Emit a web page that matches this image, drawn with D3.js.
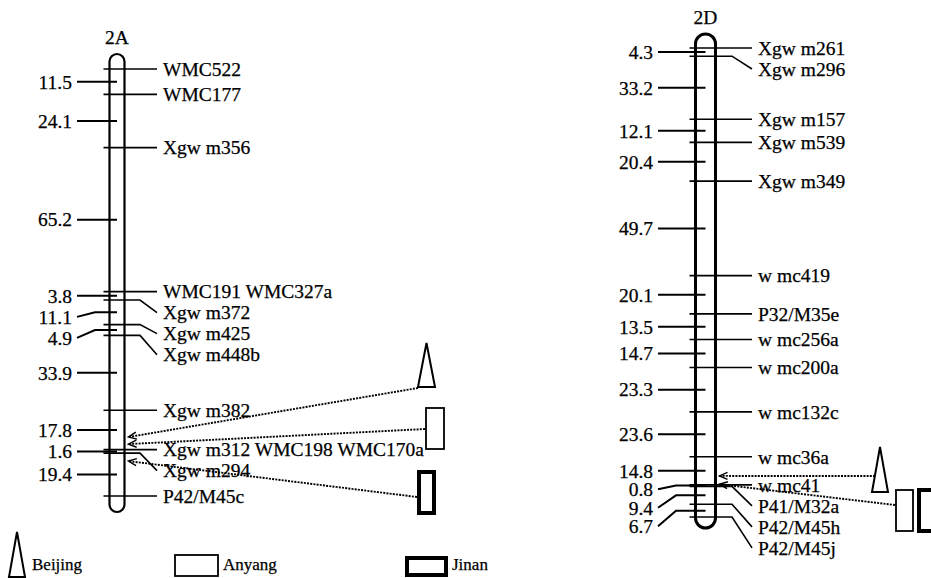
<!DOCTYPE html>
<html>
<head>
<meta charset="utf-8">
<script src="https://cdn.jsdelivr.net/npm/d3@7"></script>
<style>
  body { margin: 0; background: #fff; }
  text { font-family: "Liberation Serif", "Times New Roman", serif; fill: #000; stroke: #000; stroke-width: 0.25px; }
</style>
</head>
<body>
<div id="chart"></div>
<script>
const markers2A = ["WMC522", "WMC177", "Xgw m356", "WMC191 WMC327a", "Xgw m372", "Xgw m425",
  "Xgw m448b", "Xgw m382", "Xgw m312 WMC198 WMC170a", "Xgw m294", "P42/M45c"];
const intervals2A = [11.5, 24.1, 65.2, 3.8, 11.1, 4.9, 33.9, 17.8, 1.6, 19.4];

const markers2D = ["Xgw m261", "Xgw m296", "Xgw m157", "Xgw m539", "Xgw m349", "w mc419",
  "P32/M35e", "w mc256a", "w mc200a", "w mc132c", "w mc36a", "w mc41", "P41/M32a",
  "P42/M45h", "P42/M45j"];
const intervals2D = [4.3, 33.2, 12.1, 20.4, 49.7, 20.1, 13.5, 14.7, 23.3, 23.6, 14.8, 0.8, 9.4, 6.7];

// QTL positions (cM) per environment, null = no arrow
const envs = ["Beijing", "Anyang", "Jinan"];
const qtl2A = [166.6, 169.8, 177.5];
const qtl2D = [225.0, 229.4, null];

const width = 931, height = 578;
const fs = "19.5px";
const svg = d3.select("#chart").append("svg").attr("width", width).attr("height", height);

const defs = svg.append("defs");
defs.append("marker")
  .attr("id", "head")
  .attr("viewBox", "-10 -5 12 10")
  .attr("markerWidth", 12).attr("markerHeight", 10)
  .attr("refX", 0).attr("refY", 0)
  .attr("markerUnits", "userSpaceOnUse")
  .attr("orient", "auto")
  .append("path")
  .attr("d", "M-8,-3.5L0,0L-8,3.5")
  .attr("fill", "none").attr("stroke", "#000").attr("stroke-width", 1.5);

// environment symbol
function drawBox(g, env, b) {
  if (env === "Beijing") {
    g.append("path")
      .attr("d", `M${b.x},${b.y + b.h}L${b.x + b.w / 2},${b.y}L${b.x + b.w},${b.y + b.h}Z`)
      .attr("fill", "#fff").attr("stroke", "#000").attr("stroke-width", 2)
      .attr("stroke-linejoin", "miter");
  } else {
    g.append("rect")
      .attr("x", b.x).attr("y", b.y).attr("width", b.w).attr("height", b.h)
      .attr("fill", "#fff").attr("stroke", "#000")
      .attr("stroke-width", env === "Jinan" ? 4 : 1.8);
  }
}

function drawChrom(cfg, names, intervals, qtl) {
  const g = svg.append("g");
  const pos = [0];
  intervals.forEach(d => pos.push(pos[pos.length - 1] + d));
  const y = d3.scaleLinear().domain([0, d3.sum(intervals)]).range([cfg.y0, cfg.y1]);

  // chromosome body
  g.append("rect")
    .attr("x", cfg.cx - cfg.w / 2).attr("y", cfg.top)
    .attr("width", cfg.w).attr("height", cfg.bottom - cfg.top)
    .attr("rx", cfg.w / 2).attr("ry", cfg.w / 2)
    .attr("fill", "#fff").attr("stroke", "#000").attr("stroke-width", cfg.sw);

  g.append("text").text(cfg.title)
    .attr("x", cfg.cx).attr("y", cfg.top - 10)
    .attr("text-anchor", "middle").style("font-size", fs);

  // marker labels on the right, pushed down when crowded
  let prev = -1e9;
  const mk = names.map((n, i) => {
    const ty = y(pos[i]);
    const ly = Math.max(ty, prev + cfg.gapR);
    prev = ly;
    return {n, ty, ly};
  });
  g.selectAll(".mline").data(mk).join("path")
    .attr("d", d => {
      const x0 = cfg.cx - cfg.w / 2 - 6;
      if (d.ly - d.ty < 1) return `M${x0},${d.ty}H${cfg.lineEnd}`;
      return `M${x0},${d.ty}H${cfg.bendX}L${cfg.lineEnd},${d.ly}`;
    })
    .attr("fill", "none").attr("stroke", "#000").attr("stroke-width", 1.6);
  g.selectAll(".mlab").data(mk).join("text")
    .text(d => d.n)
    .attr("x", cfg.lineEnd + 6).attr("y", d => d.ly)
    .attr("dy", "0.35em").style("font-size", fs);

  // interval distances on the left
  prev = -1e9;
  const iv = intervals.map((v, i) => {
    const ty = y((pos[i] + pos[i + 1]) / 2);
    const ly = Math.max(ty, prev + cfg.gapL);
    prev = ly;
    return {v, ty, ly};
  });
  g.selectAll(".iline").data(iv).join("path")
    .attr("d", d => {
      if (d.ly - d.ty < 1) return `M${cfg.tickStart},${d.ty}H${cfg.cx}`;
      return `M${cfg.tickStart},${d.ly}L${cfg.tickStart + 18},${d.ty}H${cfg.cx}`;
    })
    .attr("fill", "none").attr("stroke", "#000").attr("stroke-width", 2);
  g.selectAll(".ilab").data(iv).join("text")
    .text(d => d.v.toFixed(1))
    .attr("x", cfg.tickStart - 5).attr("y", d => d.ly)
    .attr("dy", "0.35em").attr("text-anchor", "end").style("font-size", fs);

  // QTL arrows and environment symbols
  envs.forEach((env, i) => {
    const b = cfg.boxes[i];
    if (qtl[i] !== null) {
      g.append("line")
        .attr("x1", b.ax).attr("y1", b.ay)
        .attr("x2", cfg.cx + cfg.w / 2 + 4).attr("y2", y(qtl[i]))
        .attr("stroke", "#000").attr("stroke-width", 1.9)
        .attr("stroke-dasharray", "2,1.2")
        .attr("marker-end", "url(#head)");
    }
    drawBox(g, env, b);
  });
}

drawChrom({
  title: "2A", cx: 117, w: 15, sw: 2.2, top: 54, bottom: 512,
  y0: 69, y1: 496, lineEnd: 157, bendX: 140, tickStart: 77, gapR: 21, gapL: 21,
  boxes: [
    {x: 418, y: 343, w: 17, h: 44, ax: 418, ay: 388},
    {x: 426, y: 408, w: 18, h: 41, ax: 425, ay: 429},
    {x: 419, y: 472, w: 15, h: 41, ax: 417, ay: 497}
  ]
}, markers2A, intervals2A, qtl2A);

drawChrom({
  title: "2D", cx: 705.5, w: 20, sw: 3, top: 34, bottom: 528,
  y0: 48, y1: 517, lineEnd: 752, bendX: 732, tickStart: 658, gapR: 21, gapL: 18.5,
  boxes: [
    {x: 872, y: 447, w: 16, h: 45, ax: 875, ay: 476},
    {x: 896, y: 490, w: 17, h: 41, ax: 895, ay: 505},
    {x: 919, y: 490, w: 18, h: 41, ax: 919, ay: 505}
  ]
}, markers2D, intervals2D, qtl2D);

// legend
const legend = svg.append("g");
const legendBoxes = [
  {x: 9, y: 532, w: 16, h: 45, tx: 32},
  {x: 175, y: 555, w: 43, h: 21, tx: 223},
  {x: 407, y: 558, w: 39, h: 17, tx: 452}
];
envs.forEach((env, i) => {
  const b = legendBoxes[i];
  drawBox(legend, env, b);
  legend.append("text").text(env)
    .attr("x", b.tx).attr("y", 570).style("font-size", "17px");
});
</script>
</body>
</html>
